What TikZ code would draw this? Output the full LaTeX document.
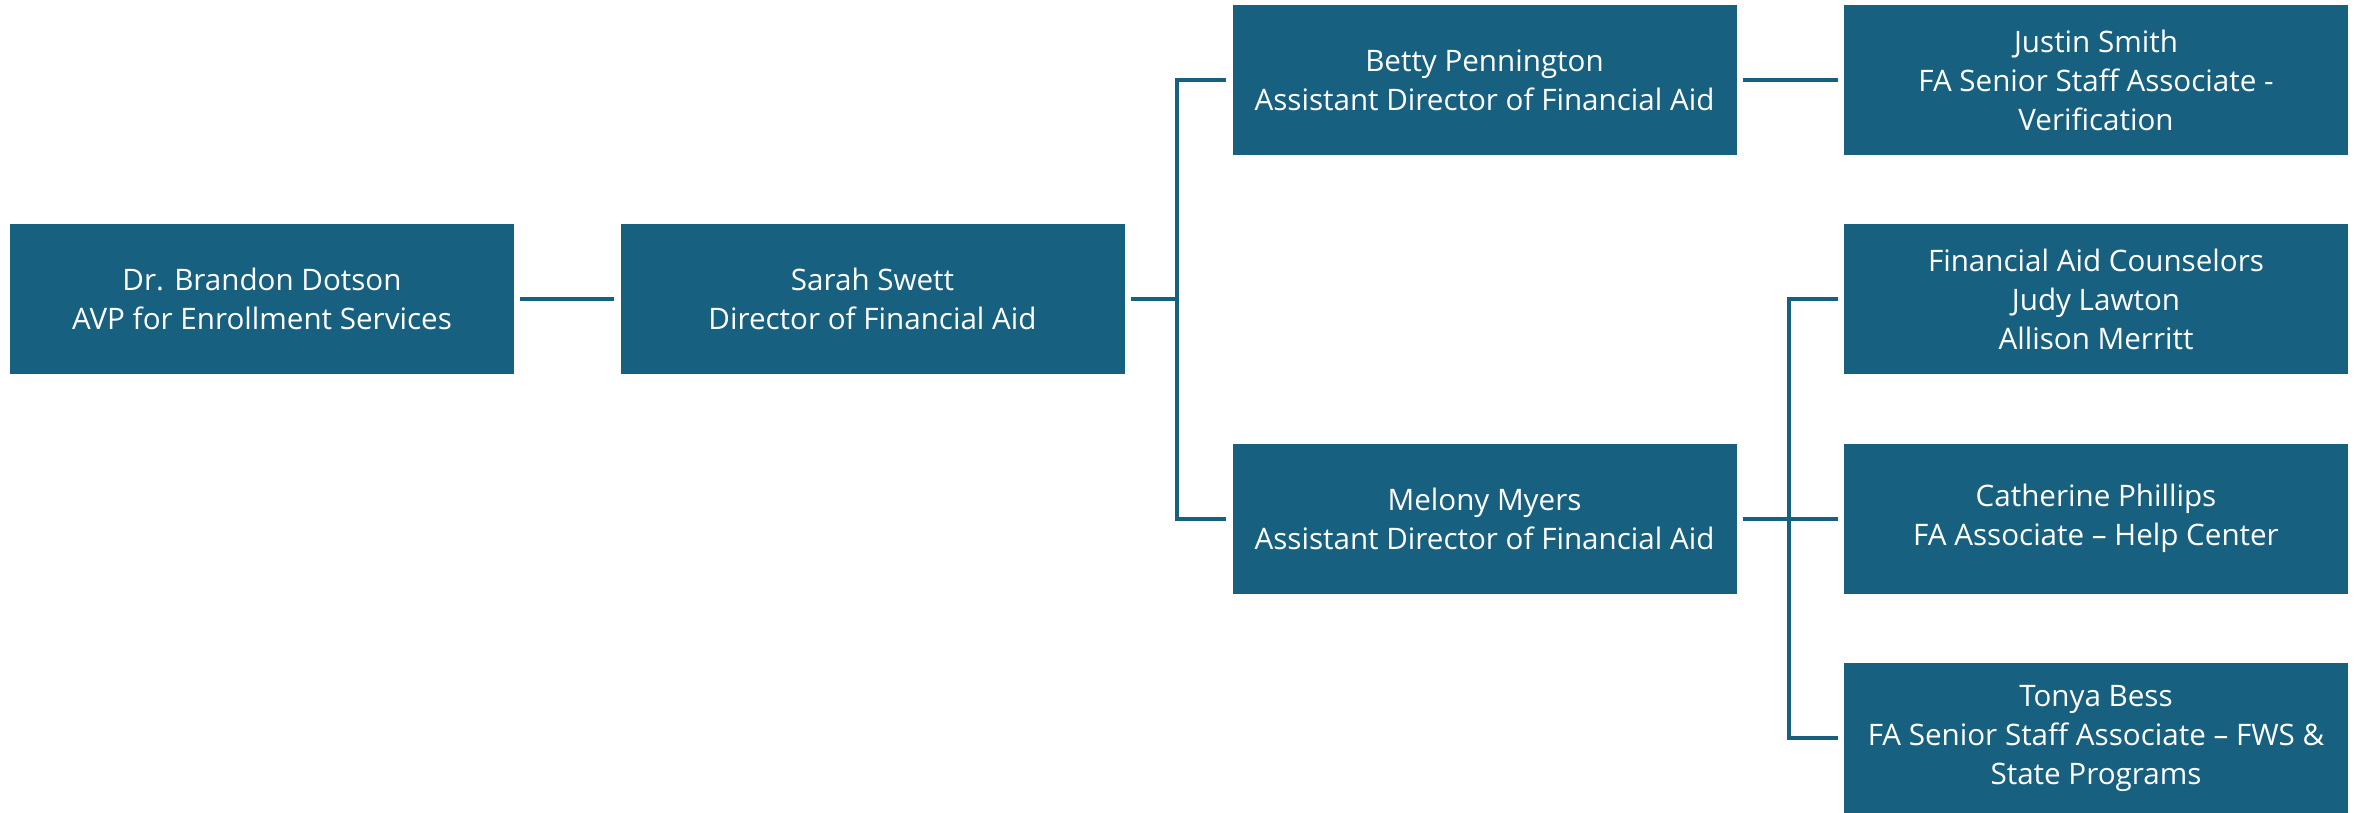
\documentclass[tikz,border=0pt]{standalone}
\usepackage{fontspec}
\setmainfont{Open Sans}
\definecolor{boxblue}{RGB}{24,96,128}
\begin{document}
\begin{tikzpicture}[x=0.5pt,y=-0.5pt,
  person/.style={fill=boxblue,draw=none,minimum width=252pt,minimum height=75pt,
    text=white,align=center,inner sep=0pt,font=\fontsize{14.8}{19.5}\selectfont},
  link/.style={draw=boxblue,line width=2pt,line join=miter}]
\useasboundingbox (0,0) rectangle (2357,813);
\node[person] (dotson) at (262,299) {Dr. Brandon Dotson\\AVP for Enrollment Services};
\node[person] (swett) at (872.5,299) {Sarah Swett\\Director of Financial Aid};
\node[person] (betty) at (1484.5,80) {Betty Pennington\\Assistant Director of Financial Aid};
\node[person] (melony) at (1484.5,518.5) {Melony Myers\\Assistant Director of Financial Aid};
\node[person] (justin) at (2096,80) {Justin Smith\\FA Senior Staff Associate -\\Verification};
\node[person] (fac) at (2096,299) {Financial Aid Counselors\\Judy Lawton\\Allison Merritt};
\node[person] (cath) at (2096,518.5) {Catherine Phillips\\FA Associate -- Help Center};
\node[person] (tonya) at (2096,738) {Tonya Bess\\FA Senior Staff Associate -- FWS \&\\State Programs};
\coordinate (bus1) at (1177,299);
\coordinate (bus2) at (1789,518.5);
\draw[link] ([xshift=3pt]dotson.east) -- ([xshift=-3pt]swett.west);
\draw[link] ([xshift=3pt]swett.east) -- (bus1);
\draw[link] ([xshift=-3pt]betty.west) -- (bus1 |- betty.west) -- (bus1 |- melony.west) -- ([xshift=-3pt]melony.west);
\draw[link] ([xshift=3pt]betty.east) -- ([xshift=-3pt]justin.west);
\draw[link] ([xshift=3pt]melony.east) -- ([xshift=-3pt]cath.west);
\draw[link] ([xshift=-3pt]fac.west) -- (bus2 |- fac.west) -- (bus2 |- tonya.west) -- ([xshift=-3pt]tonya.west);
\end{tikzpicture}
\end{document}
